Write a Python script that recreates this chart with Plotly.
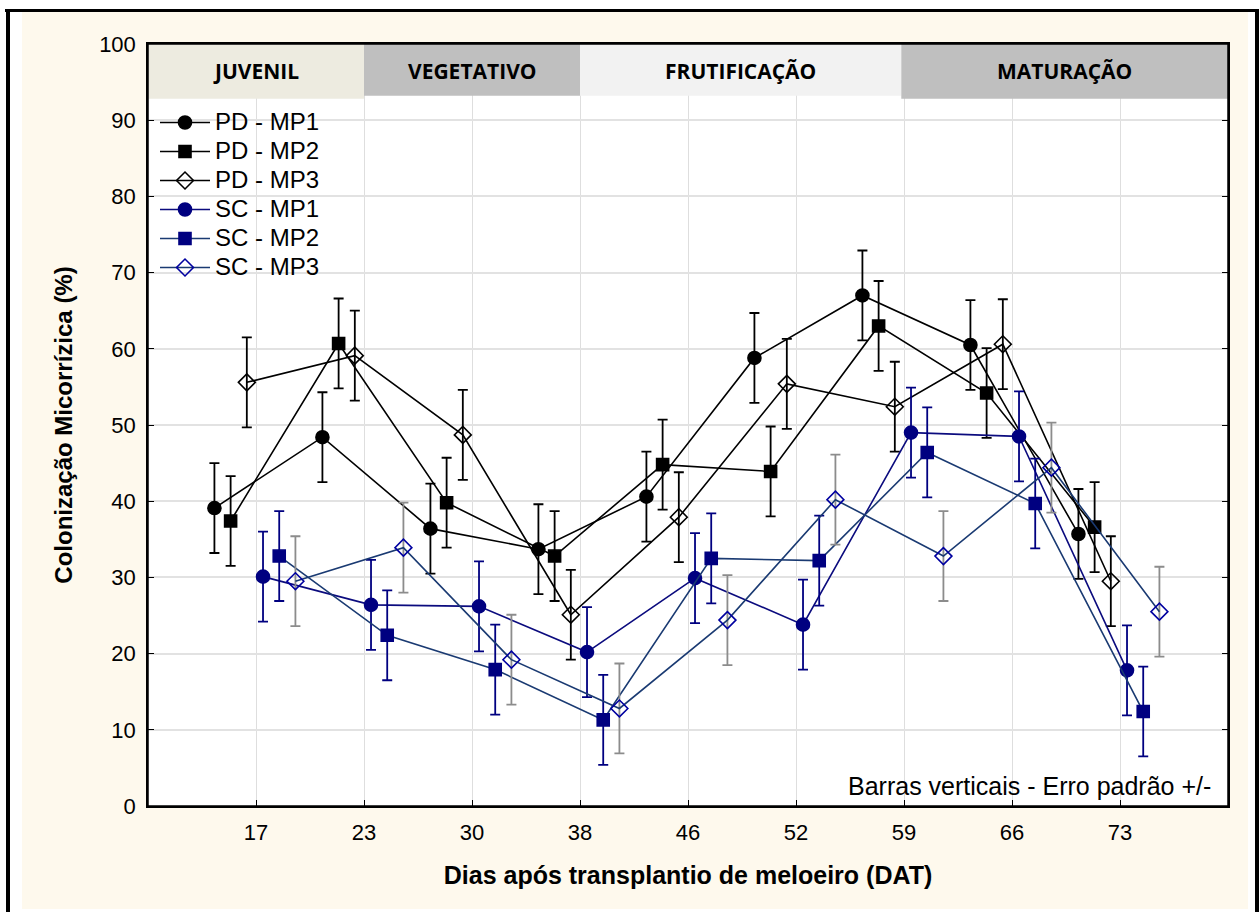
import plotly.graph_objects as go

# ---------------- data ----------------
days = [17, 23, 30, 38, 46, 52, 59, 66, 73]
series_names = ["PD - MP1", "PD - MP2", "PD - MP3", "SC - MP1", "SC - MP2", "SC - MP3"]
pd_mp1 = [39.1, 48.4, 36.4, 33.7, 40.6, 58.8, 67.0, 60.5, 35.7]
pd_mp2 = [37.4, 60.7, 39.8, 32.8, 44.8, 43.9, 63.0, 54.2, 36.6]
pd_mp3 = [55.6, 59.1, 48.7, 25.1, 37.9, 55.4, 52.4, 60.6, 29.5]
sc_mp1 = [30.1, 26.4, 26.2, 20.2, 29.9, 23.8, 49.0, 48.5, 17.8]
sc_mp2 = [32.8, 22.4, 17.9, 11.3, 32.5, 32.2, 46.4, 39.7, 12.4]
sc_mp3 = [29.5, 33.9, 19.2, 12.8, 24.4, 40.2, 32.8, 44.4, 25.5]
std_err = 5.9
phase_names = ["JUVENIL", "VEGETATIVO", "FRUTIFICAÇÃO", "MATURAÇÃO"]
phase_boundary_days = [23, 38, 59]   # days where a new phase starts

# ---------------- styling ----------------
W, H = 1259, 912
ML, MR, MT, MB = 148, 31, 44, 106
PW, PH = W - ML - MR, H - MT - MB

def px2x(px):
    return (px - ML) / PW

def py2y(py):
    return (H - MB - py) / PH

series_values = [pd_mp1, pd_mp2, pd_mp3, sc_mp1, sc_mp2, sc_mp3]
offsets = [-0.385, -0.235, -0.085, 0.065, 0.215, 0.365]
NAVY = "#000080"
styles = [
    dict(line="#000000", marker="#000000", symbol="circle", size=13, err="#000000"),
    dict(line="#000000", marker="#000000", symbol="square", size=12, err="#000000"),
    dict(line="#000000", marker="#000000", symbol="diamond-open", size=13, err="#000000"),
    dict(line="#0b0b7e", marker=NAVY, symbol="circle", size=13, err=NAVY),
    dict(line="#1a3a72", marker=NAVY, symbol="square", size=12, err=NAVY),
    dict(line="#1a3a72", marker="#0000a0", symbol="diamond-open", size=13, err="#8c8c8c"),
]

fig = go.Figure()
for name, vals, off, st in zip(series_names, series_values, offsets, styles):
    xs = [i + 1 + off for i in range(len(days))]
    fig.add_trace(go.Scatter(
        x=xs, y=vals, mode="lines+markers",
        name=f'<span style="font-size:24px">{name}</span>',
        line=dict(color=st["line"], width=1.6),
        marker=dict(color=st["marker"], symbol=st["symbol"], size=st["size"],
                    line=dict(color=st["marker"], width=1.6)),
        error_y=dict(type="constant", value=std_err, color=st["err"],
                     thickness=1.8, width=5),
    ))

# phase header bands
n = len(days)
edges = [0] + [days.index(d) + 1 for d in phase_boundary_days] + [n + 1]
band_colors = ["#edebe0", "#bfbfbf", "#f2f2f2", "#bfbfbf"]
band_bottoms = [92.8, 93.2, 93.2, 92.8]
edge_shift = [0, 0, 0, -0.025, 0]

shapes = [
    # beige page background
    dict(type="rect", xref="paper", yref="paper", layer="below",
         x0=px2x(22), x1=px2x(1248), y0=py2y(909), y1=py2y(12),
         fillcolor="#fef9ed", line=dict(width=0)),
    # white plot area
    dict(type="rect", xref="paper", yref="paper", layer="below",
         x0=0, x1=1, y0=0, y1=1, fillcolor="#ffffff", line=dict(width=0)),
    # page border lines
    dict(type="line", xref="paper", yref="paper", layer="below",
         x0=px2x(8), x1=px2x(8), y0=py2y(912), y1=py2y(9),
         line=dict(color="#000000", width=4)),
    dict(type="line", xref="paper", yref="paper", layer="below",
         x0=px2x(5), x1=px2x(1259), y0=py2y(10.5), y1=py2y(10.5),
         line=dict(color="#000000", width=3)),
    dict(type="line", xref="paper", yref="paper", layer="below",
         x0=px2x(1257), x1=px2x(1257), y0=py2y(912), y1=py2y(9),
         line=dict(color="#000000", width=4)),
]
annotations = []
for i, pname in enumerate(phase_names):
    x0 = edges[i] + edge_shift[i]
    x1 = edges[i + 1] + edge_shift[i + 1]
    shapes.append(dict(type="rect", xref="x", yref="y", layer="above",
                       x0=x0, x1=x1, y0=band_bottoms[i], y1=100,
                       fillcolor=band_colors[i], line=dict(width=0)))
    annotations.append(dict(x=(x0 + x1) / 2, y=96.4, xref="x", yref="y",
                            text=f"<b>{pname}</b>", showarrow=False,
                            font=dict(family="Open Sans", size=21, color="#000000")))
# plot frame
shapes.append(dict(type="rect", xref="paper", yref="paper", layer="above",
                   x0=0, x1=1, y0=0, y1=1, line=dict(color="#000000", width=1.5)))

annotations.append(dict(x=px2x(1213), y=py2y(786), xref="paper", yref="paper",
                        xanchor="right", yanchor="middle", showarrow=False,
                        text="Barras verticais - Erro padrão +/-",
                        font=dict(family="Liberation Sans, Arial", size=25, color="#000000")))

axis_font = dict(family="Liberation Sans, Arial", size=22, color="#000000")
fig.update_layout(
    width=W, height=H, autosize=False,
    margin=dict(l=ML, r=MR, t=MT, b=MB, pad=0),
    paper_bgcolor="#ffffff", plot_bgcolor="rgba(0,0,0,0)",
    showlegend=True,
    legend=dict(x=px2x(155), y=py2y(103), xanchor="left", yanchor="top",
                bgcolor="rgba(0,0,0,0)", borderwidth=0, itemwidth=50,
                font=dict(family="Liberation Sans, Arial", size=20, color="#000000"),
                tracegroupgap=0),
    shapes=shapes, annotations=annotations,
    xaxis=dict(range=[0, n + 1], tickmode="array",
               tickvals=[i + 1 for i in range(n)], ticktext=[str(d) for d in days],
               showgrid=True, gridcolor="#dedede", gridwidth=1,
               zeroline=False, showline=True, linecolor="#000000", linewidth=1.5,
               mirror=True, ticks="inside", ticklen=6, tickcolor="#000000",
               tickfont=axis_font, ticklabelstandoff=6,
               title=dict(text="<b>Dias após transplantio de meloeiro (DAT)</b>",
                          font=dict(family="Liberation Sans, Arial", size=25, color="#000000"),
                          standoff=22)),
    yaxis=dict(range=[0, 100], dtick=10, tick0=0,
               showgrid=True, gridcolor="#e2e2e2", gridwidth=2,
               zeroline=False, showline=True, linecolor="#000000", linewidth=1.5,
               mirror="ticks", ticks="inside", ticklen=6, tickcolor="#000000",
               tickfont=axis_font, ticklabelstandoff=6,
               title=dict(text="<b>Colonização Micorrízica (%)</b>",
                          font=dict(family="Liberation Sans, Arial", size=24, color="#000000"),
                          standoff=20)),
)

fig.write_html("out.html")
